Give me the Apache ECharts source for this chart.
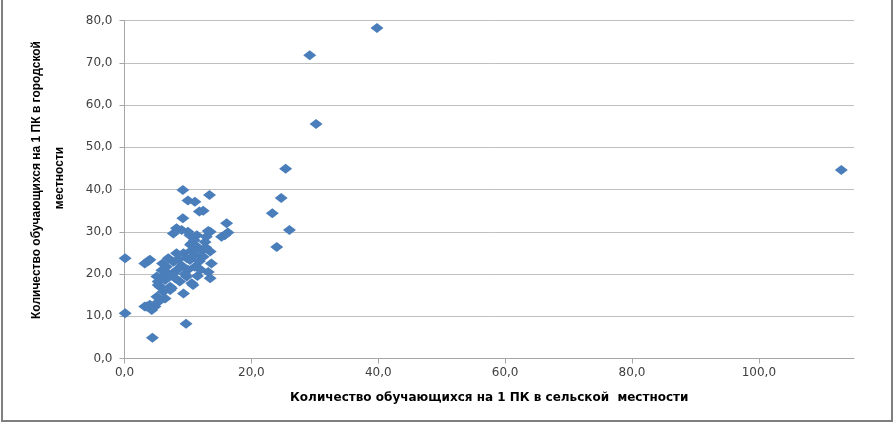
<!DOCTYPE html>
<html>
<head>
<meta charset="utf-8">
<script src="https://cdn.jsdelivr.net/npm/echarts@6/dist/echarts.min.js"></script>
<style>html,body{margin:0;padding:0;background:#fff}#c{width:896px;height:424px}</style>
</head>
<body>
<div id="c"></div>
<script>
const xTitle = 'Количество обучающихся на 1 ПК в сельской  местности';
const yTitleLine1 = 'Количество обучающихся на 1 ПК в городской';
const yTitleLine2 = 'местности';
const xTicks = [0, 20, 40, 60, 80, 100];
const yTicks = [0, 10, 20, 30, 40, 50, 60, 70, 80];
const ruralX = [
  39.8, 29.2, 30.2, 25.4, 24.7, 23.3, 26.0, 24.0, 113.0,
  9.2, 13.4, 10.0, 11.1, 11.8, 12.4, 9.2, 16.1, 8.2, 9.0, 7.7, 13.2, 15.8, 16.3, 12.9, 12.7,
  10.3, 10.0, 10.4, 11.4, 13.5, 15.3,
  0.1, 3.2, 3.7, 4.0, 6.9, 8.2, 9.3, 11.1, 12.4, 13.5, 10.6, 11.4, 7.7, 8.2, 10.3, 11.1,
  13.7, 13.2, 13.5, 5.9, 6.6, 5.1, 5.6, 5.3, 6.4, 7.2, 5.6, 5.3, 9.3, 9.8, 10.6, 10.8, 8.7,
  7.7, 7.2, 7.4, 6.1, 6.4, 5.3, 5.1, 4.8, 4.0, 3.5, 3.2, 4.3, 0.1, 9.7, 4.4,
  9.0, 10.0, 11.8, 12.2, 9.5, 8.5, 7.0, 6.0, 12.0, 11.5, 10.5, 8.0, 6.5, 9.8, 12.8, 11.0
];
const urbanY = [
  78.2, 71.8, 55.5, 44.9, 38.0, 34.4, 30.4, 26.4, 44.6,
  39.9, 38.7, 37.4, 37.1, 34.8, 35.0, 33.2, 32.0, 30.8, 30.4, 29.6, 30.2, 29.2, 29.8, 28.8, 27.6,
  29.2, 30.0, 26.9, 29.2, 30.0, 28.8,
  23.7, 22.5, 23.0, 23.4, 23.7, 24.9, 24.9, 24.5, 24.1, 25.3, 27.3, 26.5, 22.9, 20.9, 23.3, 21.7,
  22.5, 20.5, 19.0, 20.9, 21.7, 19.4, 19.0, 18.2, 18.6, 17.0, 17.0, 17.4, 15.4, 19.4, 17.8, 17.4, 18.2,
  20.2, 16.2, 16.6, 15.8, 14.2, 13.4, 14.6, 12.3, 12.7, 12.3, 12.3, 11.5, 10.7, 8.2, 4.9,
  22.0, 21.0, 23.0, 25.5, 20.0, 23.5, 20.0, 22.5, 21.0, 19.5, 25.5, 19.0, 19.8, 23.8, 26.3, 28.0
];
const points = ruralX.map((x, i) => [x, urbanY[i]]);
const fmt = v => v.toFixed(1).replace('.', ',');

const chart = echarts.init(document.getElementById('c'));
const yFont = 'bold 12px "Liberation Sans Narrow", "Liberation Sans", sans-serif';
chart.setOption({
  animation: false,
  backgroundColor: '#fff',
  grid: { left: 124.5, right: 42, top: 20.5, bottom: 65.5, containLabel: false },
  xAxis: {
    type: 'value', min: 0, max: 115, interval: 20,
    axisLine: { show: true, lineStyle: { color: '#a6a6a6', width: 1 } },
    axisTick: { show: true, length: 5, lineStyle: { color: '#a6a6a6' } },
    splitLine: { show: false },
    axisLabel: { showMaxLabel: false, formatter: v => xTicks.includes(v) ? fmt(v) : '', color: '#404040', fontFamily: 'DejaVu Sans', fontSize: 12, margin: 8 },
    name: xTitle, nameLocation: 'middle', nameGap: 33,
    nameTextStyle: { fontFamily: 'DejaVu Sans', fontWeight: 'bold', fontSize: 12, color: '#000' }
  },
  yAxis: {
    type: 'value', min: 0, max: 80, interval: 10,
    axisLine: { show: true, lineStyle: { color: '#a6a6a6', width: 1 } },
    axisTick: { show: true, length: 5, lineStyle: { color: '#a6a6a6' } },
    splitLine: { show: true, lineStyle: { color: '#bfbfbf', width: 1 } },
    axisLabel: { formatter: v => yTicks.includes(v) ? fmt(v) : '', color: '#404040', fontFamily: 'DejaVu Sans', fontSize: 12, margin: 12 }
  },
  series: [{
    type: 'scatter',
    data: points,
    symbol: 'diamond',
    symbolSize: [13, 10],
    itemStyle: { color: '#4a7ebb', opacity: 1 }
  }],
  graphic: [
    {
      type: 'text', silent: true, x: 37, y: 180, rotation: Math.PI / 2,
      style: { text: yTitleLine1, font: yFont, fill: '#000', align: 'center', verticalAlign: 'middle' }
    },
    {
      type: 'text', silent: true, x: 60, y: 178, rotation: Math.PI / 2,
      style: { text: yTitleLine2, font: yFont, fill: '#000', align: 'center', verticalAlign: 'middle' }
    },
    {
      type: 'rect', silent: true,
      shape: { x: 2, y: -10, width: 890, height: 431 },
      style: { fill: null, stroke: '#7f7f7f', lineWidth: 2 }
    }
  ]
});
</script>
</body>
</html>
